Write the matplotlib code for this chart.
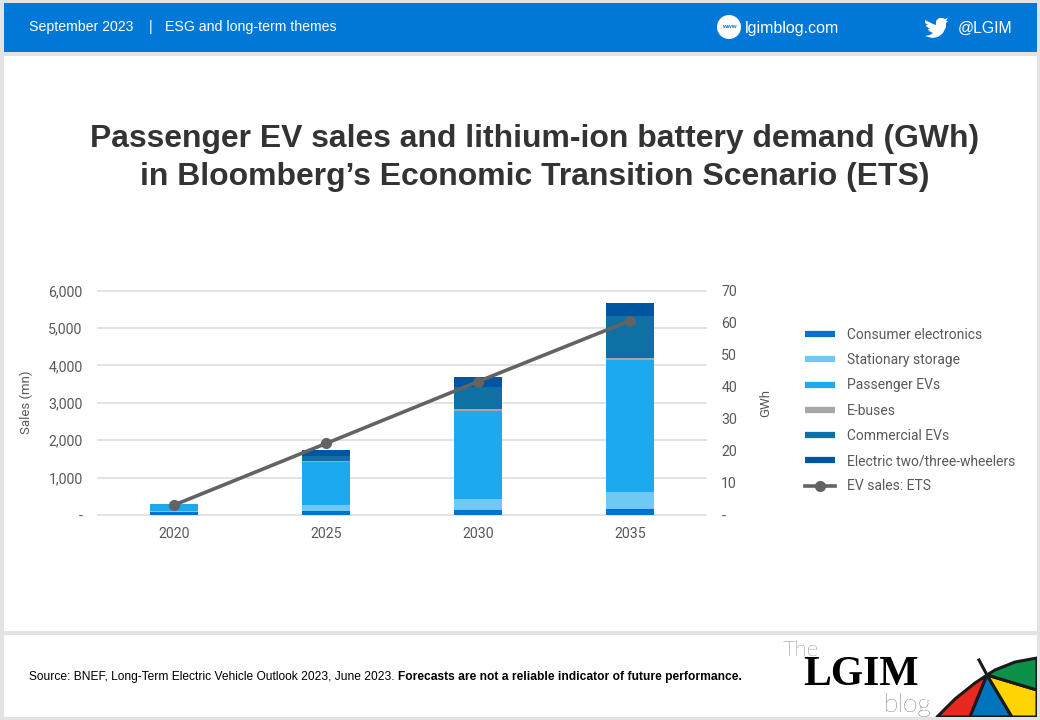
import matplotlib
matplotlib.use("Agg")
import matplotlib.pyplot as plt
import numpy as np
from matplotlib.lines import Line2D
from matplotlib.patches import Rectangle, Circle, Polygon

years = ["2020", "2025", "2030", "2035"]
consumer = [90, 107, 125, 160]
stationary = [5, 160, 293, 445]
passenger = [190, 1140, 2372, 3545]
ebuses = [0, 36, 35, 45]
commercial = [0, 144, 587, 1125]
two_wheelers = [0, 150, 268, 335]
ev_sales = [3.1, 22.3, 41.6, 60.6]

series_names = ["Consumer electronics", "Stationary storage", "Passenger EVs",
                "E-buses", "Commercial EVs", "Electric two/three-wheelers"]
series_values = [consumer, stationary, passenger, ebuses, commercial, two_wheelers]
series_colors = ["#0072D0", "#70C8F4", "#1CA9EE", "#A6A6A6", "#0F70A3", "#0055A0"]
sales_ticks = [0, 1000, 2000, 3000, 4000, 5000, 6000]
sales_labels = ["-", "1,000", "2,000", "3,000", "4,000", "5,000", "6,000"]
gwh_ticks = [0, 10, 20, 30, 40, 50, 60, 70]
gwh_labels = ["-", "10", "20", "30", "40", "50", "60", "70"]

W, H = 1040, 720
TEXT = "#595959"
BLUE = "#0078D7"

fig = plt.figure(figsize=(W / 100, H / 100), dpi=100, facecolor="#E3E3E3")

# page furniture, in pixel coordinates
bg = fig.add_axes([0, 0, 1, 1], zorder=0)
bg.set_xlim(0, W)
bg.set_ylim(H, 0)
bg.axis("off")
bg.add_patch(Rectangle((4, 3), 1033, 49, fc=BLUE, ec="none"))
bg.add_patch(Rectangle((4, 56), 1033, 575, fc="white", ec="none"))
footer = Rectangle((4, 635), 1033, 82, fc="white", ec="none")
bg.add_patch(footer)

head = dict(family="Liberation Sans", color="white", va="center", fontsize=10.2)
bg.text(29, 27, "September 2023", **head)
bg.text(149, 27, "|", **head)
bg.text(165, 27, "ESG and long-term themes", **head)
bg.text(745, 28, "lgimblog.com", family="Liberation Sans", color="white", va="center", fontsize=11.5)
bg.text(958, 28, "@LGIM", family="Liberation Sans", color="white", va="center", fontsize=11.4)
bg.add_patch(Circle((729, 27), 12, fc="white", ec="none"))
bg.text(729, 27, "www", family="Liberation Sans", fontsize=4.5, weight="bold", color=BLUE,
        ha="center", va="center")
bird = [(925, 20), (929, 22), (933, 24), (936, 25), (936, 21), (939, 18), (943, 18), (945, 19),
        (948, 18), (946, 21), (948, 21), (946, 23), (946, 27), (943, 33), (938, 37), (932, 38),
        (925, 36), (930, 35), (933, 33), (929, 31), (928, 29), (930, 29), (926, 26), (926, 25),
        (928, 25), (925, 23)]
bg.add_patch(Polygon(bird, fc="white", ec="none"))

bg.text(534.5, 139, "Passenger EV sales and lithium-ion battery demand (GWh)", family="Liberation Sans",
        weight="bold", fontsize=22.95, color="#333333", ha="center", va="center")
bg.text(534.5, 177, "in Bloomberg\u2019s Economic Transition Scenario (ETS)", family="Liberation Sans",
        weight="bold", fontsize=22.95, color="#333333", ha="center", va="center")

src = bg.text(29, 677, "Source: BNEF, Long-Term Electric Vehicle Outlook 2023, June 2023. ",
              family="Liberation Sans", fontsize=8.68, color="black", va="center")
bg.annotate("Forecasts are not a reliable indicator of future performance.", xy=(1, 0.5),
            xycoords=src, va="center", family="Liberation Sans", fontsize=8.68, weight="bold", color="black")

# blog logo
bg.text(783, 650, "The", family="Lato", weight="light", fontsize=16, color="#222222", va="center")
bg.text(803, 675, "LGIM", family="Liberation Serif", weight="bold", fontsize=30, color="black", va="center")
bg.text(884, 705, "blog", family="Lato", weight="light", fontsize=19, color="#222222", va="center")
apex = (987, 675)
panels = [("#E8291F", [apex, (975, 683), (955, 699), (937, 717), (970, 717)]),
          ("#0075BE", [apex, (970, 717), (1012, 717)]),
          ("#FFD400", [apex, (1012, 717), (1037, 717), (1037, 690)]),
          ("#0B9149", [apex, (1037, 690), (1037, 658), (1015, 662), (995, 670)])]
for color, pts in panels:
    p = Polygon(pts, fc=color, ec="#1A1A1A", lw=2.2, joinstyle="round")
    bg.add_patch(p)
    p.set_clip_path(footer)
spike = Line2D([979, 987], [660, 675], color="#1A1A1A", lw=2.2)
bg.add_line(spike)

# chart
ax = fig.add_axes([98 / W, 1 - 515 / H, 608 / W, 224.5 / H], zorder=2)
ax.patch.set_alpha(0)
x = np.arange(len(years))
bottom = np.zeros(len(years))
for name, vals, color in zip(series_names, series_values, series_colors):
    ax.bar(x, vals, 0.315, bottom=bottom, color=color, label=name, zorder=3)
    bottom += np.array(vals)
ax.set_xlim(-0.5, 3.5)
ax.set_ylim(0, 6000)
ax.set_xticks(x, years)
ax.set_yticks(sales_ticks, sales_labels)
ax.grid(axis="y", color="#E0E0E0", lw=1.3, zorder=0, clip_on=False)
ax.set_axisbelow(True)
ax.tick_params(length=0, labelsize=10.2, labelcolor=TEXT)
ax.tick_params(axis="x", pad=9)
ax.tick_params(axis="y", pad=11)
for s in ax.spines.values():
    s.set_visible(False)
ax.set_ylabel("Sales (mn)", fontsize=9.5, color=TEXT, labelpad=11)

ax2 = ax.twinx()
ax2.plot(x, ev_sales, color="#636363", lw=2.6, marker="o", ms=7, label="EV sales: ETS", zorder=4)
ax2.set_ylim(0, 70)
ax2.set_yticks(gwh_ticks, gwh_labels)
ax2.tick_params(length=0, labelsize=10.2, labelcolor=TEXT, pad=11)
for s in ax2.spines.values():
    s.set_visible(False)
ax2.set_ylabel("GWh", fontsize=9.5, color=TEXT, labelpad=16)

handles = [Line2D([], [], color=c, lw=4.5, solid_capstyle="butt") for c in series_colors]
handles.append(Line2D([], [], color="#636363", lw=2.6, marker="o", ms=7))
labels = series_names + ["EV sales: ETS"]
leg = fig.legend(handles, labels, loc="upper left", bbox_to_anchor=(805 / W, 1 - 328 / H),
                 bbox_transform=fig.transFigure, frameon=False, fontsize=10, labelcolor=TEXT,
                 handlelength=2.15, handletextpad=0.85, labelspacing=0.81,
                 borderpad=0, borderaxespad=0)

for t in ax.get_xticklabels() + ax.get_yticklabels() + ax2.get_yticklabels() + leg.get_texts():
    t.set_family("Roboto")
ax.yaxis.label.set_family("Roboto")
ax2.yaxis.label.set_family("Roboto")

fig.savefig("out.png", dpi=100, facecolor=fig.get_facecolor())
